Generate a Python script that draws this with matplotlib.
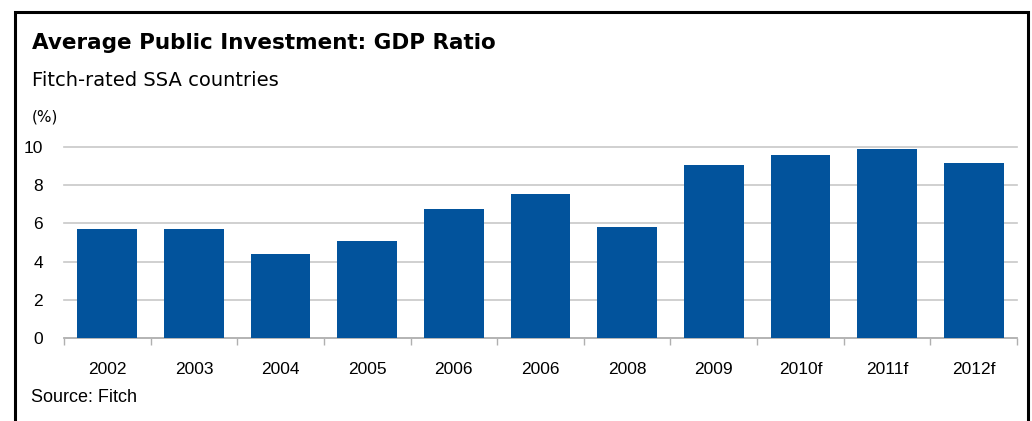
import matplotlib.pyplot as plt
from matplotlib.patches import Rectangle

years = ["2002", "2003", "2004", "2005", "2006", "2006", "2008", "2009", "2010f", "2011f", "2012f"]
ratio = [5.7, 5.7, 4.4, 5.1, 6.75, 7.55, 5.8, 9.05, 9.6, 9.9, 9.15]

W, H = 1032, 421
fig = plt.figure(figsize=(W / 100, H / 100), dpi=100)

# axes placed in pixel coords: left 64, right 1017, y0 at 338, y10 at 147
left, right, bottom, top = 64, 1017, 338, 147
ax = fig.add_axes([left / W, 1 - bottom / H, (right - left) / W, (bottom - top) / H])

x = range(len(years))
ax.bar(x, ratio, width=0.69, color="#02539C", zorder=3)
ax.set_xlim(-0.5, len(years) - 0.5)
ax.set_ylim(0, 10)
ax.set_yticks([0, 2, 4, 6, 8, 10])
ax.yaxis.grid(True, color="#c8c8c8", linewidth=1.2, zorder=0)
for gl in ax.get_ygridlines():
    gl.set_clip_on(False)
ax.set_xticks([i + 0.5 for i in range(-1, len(years))], minor=False)
ax.set_xticklabels([])
ax.set_xticks(list(x), minor=True)
ax.set_xticklabels(years, minor=True, fontsize=12.5, family="Liberation Sans")
ax.tick_params(axis="x", which="major", length=5, color="#b0b0b0", width=1)
ax.tick_params(axis="x", which="minor", length=0, pad=17)
ax.tick_params(axis="y", length=0, labelsize=12.5, pad=15)
for lbl in ax.get_yticklabels():
    lbl.set_family("Liberation Sans")
for s in ["top", "right", "left"]:
    ax.spines[s].set_visible(False)
ax.spines["bottom"].set_color("#b0b0b0")
ax.spines["bottom"].set_linewidth(1.2)

fig.text(32 / W, 1 - 43 / H, "Average Public Investment: GDP Ratio", fontsize=15.5,
         fontweight="bold", va="center", ha="left")
fig.text(32 / W, 1 - 80 / H, "Fitch-rated SSA countries", fontsize=14, va="center", ha="left")
fig.text(32 / W, 1 - 117 / H, "(%)", fontsize=11, va="center", ha="left")
fig.text(31 / W, 1 - 398 / H, "Source: Fitch", fontsize=13, va="center", ha="left",
         family="Liberation Sans")

# outer frame
fig.patches.append(Rectangle((15 / W, -0.1), (1028 - 15) / W, 1 - 12 / H + 0.1,
                             transform=fig.transFigure, fill=False, edgecolor="black",
                             linewidth=2.2))

fig.savefig("out.png", dpi=100)
